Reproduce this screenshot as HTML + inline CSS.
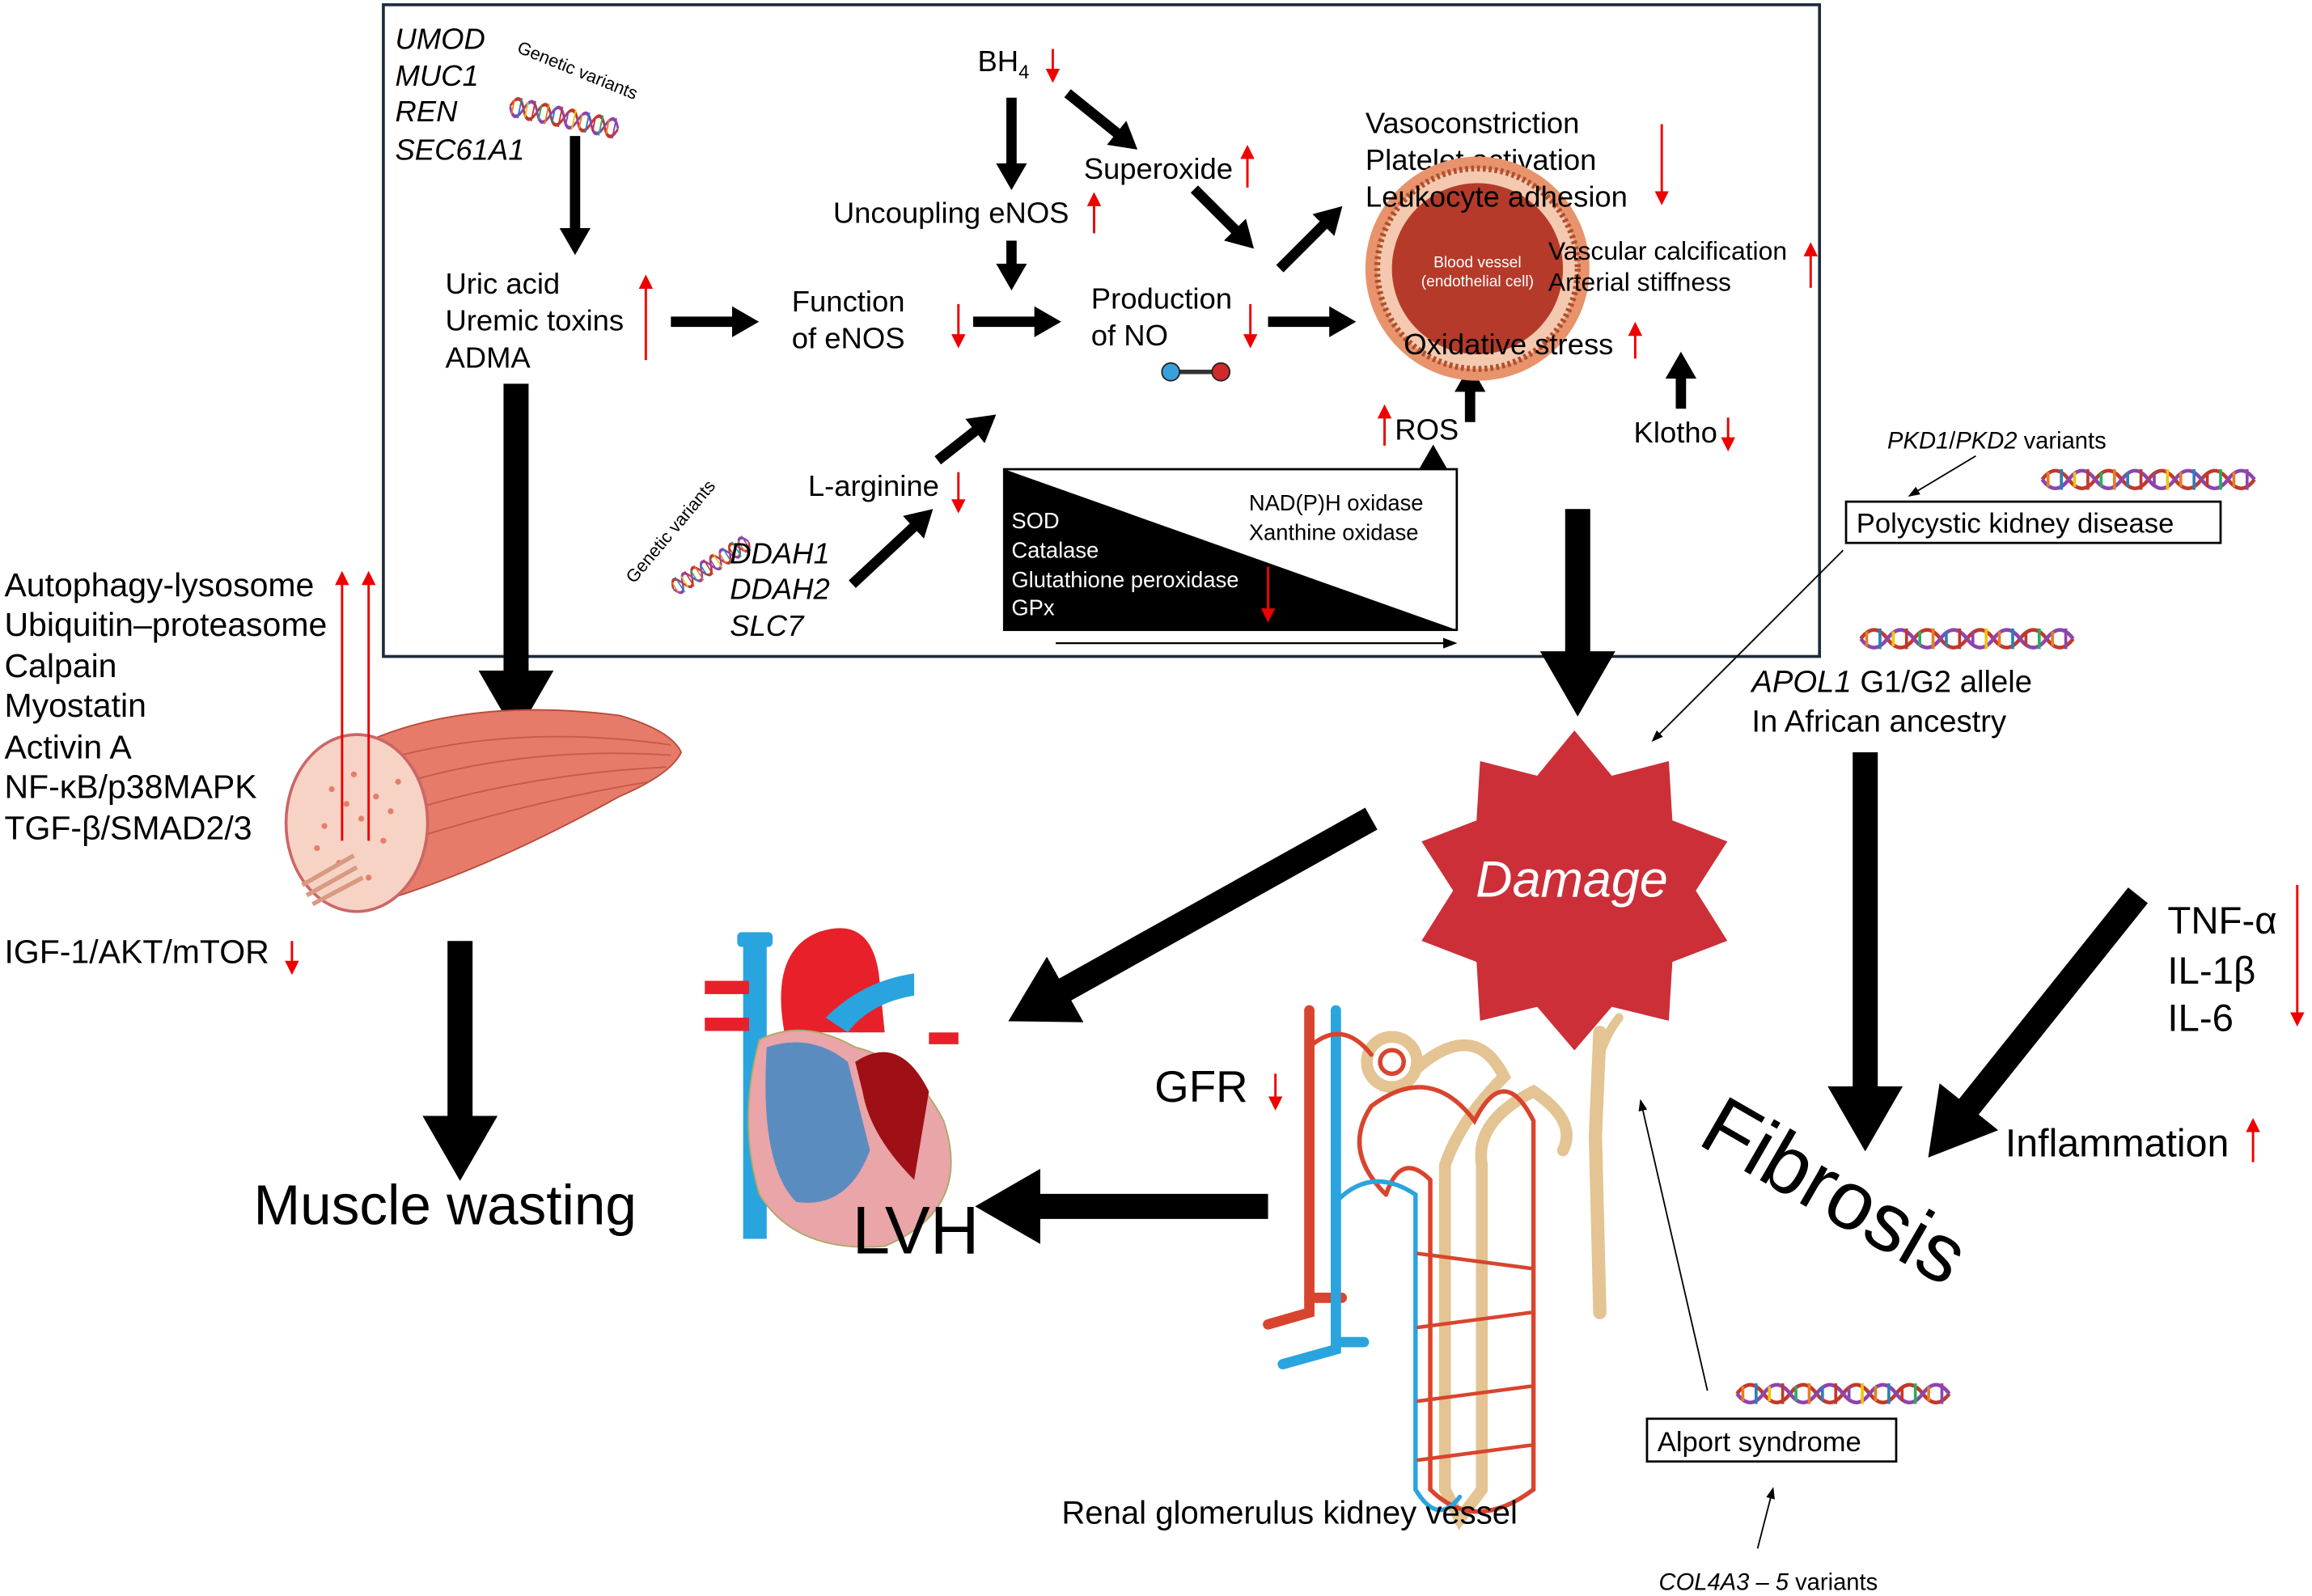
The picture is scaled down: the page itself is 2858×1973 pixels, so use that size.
<!DOCTYPE html>
<html><head><meta charset="utf-8"><style>
html,body{margin:0;padding:0;background:#fff;}
svg{display:block;}
text{font-family:"Liberation Sans",sans-serif;fill:#000;}
.i{font-style:italic;}
</style></head><body>
<svg width="2858" height="1973" viewBox="0 0 1568 1082" xmlns="http://www.w3.org/2000/svg">
<defs>
<marker id="bh" markerWidth="3" markerHeight="3" refX="0.5" refY="1.5" orient="auto" markerUnits="strokeWidth"><path d="M0,0 L2.6,1.5 L0,3 z" fill="#000"/></marker>
<marker id="rh" markerWidth="6" markerHeight="6" refX="1" refY="3" orient="auto" markerUnits="strokeWidth"><path d="M0,0 L6,3 L0,6 z" fill="#e00"/></marker>
<marker id="th" markerWidth="8" markerHeight="8" refX="1" refY="4" orient="auto" markerUnits="strokeWidth"><path d="M0,1 L8,4 L0,7 z" fill="#000"/></marker>
<g id="dna">
<path d="M0,10 Q9,-2 18,10 T36,10 T54,10 T72,10 T90,10 T108,10 T126,10 T144,10" stroke="#c0392b" stroke-width="2.5" fill="none"/>
<path d="M0,10 Q9,22 18,10 T36,10 T54,10 T72,10 T90,10 T108,10 T126,10 T144,10" stroke="#8e44ad" stroke-width="2.5" fill="none"/>
<g stroke-width="2">
<line x1="4" y1="5" x2="4" y2="15" stroke="#e67e22"/><line x1="13" y1="3" x2="13" y2="17" stroke="#2980b9"/>
<line x1="22" y1="5" x2="22" y2="15" stroke="#f1c40f"/><line x1="31" y1="3" x2="31" y2="17" stroke="#c0392b"/>
<line x1="40" y1="5" x2="40" y2="15" stroke="#27ae60"/><line x1="49" y1="3" x2="49" y2="17" stroke="#e67e22"/>
<line x1="58" y1="5" x2="58" y2="15" stroke="#2980b9"/><line x1="67" y1="3" x2="67" y2="17" stroke="#c0392b"/>
<line x1="76" y1="5" x2="76" y2="15" stroke="#8e44ad"/><line x1="85" y1="3" x2="85" y2="17" stroke="#f1c40f"/>
<line x1="94" y1="5" x2="94" y2="15" stroke="#e67e22"/><line x1="103" y1="3" x2="103" y2="17" stroke="#2980b9"/>
<line x1="112" y1="5" x2="112" y2="15" stroke="#c0392b"/><line x1="121" y1="3" x2="121" y2="17" stroke="#27ae60"/>
<line x1="130" y1="5" x2="130" y2="15" stroke="#e67e22"/><line x1="139" y1="3" x2="139" y2="17" stroke="#8e44ad"/>
</g></g>
</defs>

<rect x="260" y="3" width="974" height="442" fill="none" stroke="#1d2b3a" stroke-width="2"/>

<g font-size="20">
<text x="268" y="33" class="i">UMOD</text><text x="268" y="58" class="i">MUC1</text>
<text x="268" y="82" class="i">REN</text><text x="268" y="108" class="i">SEC61A1</text>
</g>
<text x="350" y="35" font-size="12" transform="rotate(22 350 35)">Genetic variants</text>
<use href="#dna" transform="translate(348,62) rotate(12) scale(0.52,1)"/>
<line x1="390" y1="92" x2="390" y2="158" stroke="#000" stroke-width="7" marker-end="url(#bh)"/>

<g font-size="20">
<text x="302" y="199">Uric acid</text><text x="302" y="224">Uremic toxins</text><text x="302" y="249">ADMA</text>
<text x="537" y="211">Function</text><text x="537" y="236">of eNOS</text>
<text x="740" y="209">Production</text><text x="740" y="234">of NO</text>
<text x="663" y="48">BH<tspan font-size="13" dy="5">4</tspan></text>
<text x="735" y="121">Superoxide</text>
<text x="565" y="151">Uncoupling eNOS</text>
<text x="926" y="90">Vasoconstriction</text><text x="926" y="115">Platelet activation</text>
<text x="946" y="298">ROS</text>
<text x="1108" y="300">Klotho</text>
<text x="548" y="336">L-arginine</text>
</g>

<g stroke="#e00" stroke-width="1.6">
<line x1="438" y1="244" x2="438" y2="194" marker-end="url(#rh)"/>
<line x1="650" y1="206" x2="650" y2="228" marker-end="url(#rh)"/>
<line x1="848" y1="206" x2="848" y2="228" marker-end="url(#rh)"/>
<line x1="714" y1="33" x2="714" y2="48" marker-end="url(#rh)"/>
<line x1="846" y1="127" x2="846" y2="106" marker-end="url(#rh)"/>
<line x1="742" y1="158" x2="742" y2="138" marker-end="url(#rh)"/>
<line x1="1127" y1="84" x2="1127" y2="131" marker-end="url(#rh)"/>
<line x1="1228" y1="195" x2="1228" y2="172" marker-end="url(#rh)"/>
<line x1="1109" y1="243" x2="1109" y2="226" marker-end="url(#rh)"/>
<line x1="939" y1="302" x2="939" y2="282" marker-end="url(#rh)"/>
<line x1="1172" y1="283" x2="1172" y2="298" marker-end="url(#rh)"/>
<line x1="650" y1="320" x2="650" y2="340" marker-end="url(#rh)"/>
<line x1="833" y1="364" x2="833" y2="341" marker-end="url(#rh)"/>
</g>

<g stroke="#000" stroke-width="7" fill="none">
<line x1="455" y1="218" x2="500" y2="218" marker-end="url(#bh)"/>
<line x1="660" y1="218" x2="705" y2="218" marker-end="url(#bh)"/>
<line x1="860" y1="218" x2="905" y2="218" marker-end="url(#bh)"/>
<line x1="686" y1="66" x2="686" y2="114" marker-end="url(#bh)"/>
<line x1="724" y1="63" x2="760" y2="92" marker-end="url(#bh)"/>
<line x1="686" y1="163" x2="686" y2="182" marker-end="url(#bh)"/>
<line x1="810" y1="128" x2="840" y2="158" marker-end="url(#bh)"/>
<line x1="868" y1="182" x2="900" y2="150" marker-end="url(#bh)"/>
<line x1="997" y1="286" x2="997" y2="262" marker-end="url(#bh)"/>
<line x1="1140" y1="277" x2="1140" y2="253" marker-end="url(#bh)"/>
<line x1="972" y1="330" x2="972" y2="316" marker-end="url(#bh)"/>
<line x1="636" y1="312" x2="664" y2="290" marker-end="url(#bh)"/>
<line x1="578" y1="396" x2="622" y2="355" marker-end="url(#bh)"/>
</g>

<line x1="797" y1="252" x2="826" y2="252" stroke="#333" stroke-width="3"/>
<circle cx="794" cy="252" r="6" fill="#3aa0dc" stroke="#222"/>
<circle cx="828" cy="252" r="6" fill="#d02a2a" stroke="#222"/>

<circle cx="1002" cy="182" r="76" fill="#e8936c"/>
<circle cx="1002" cy="182" r="68" fill="#f4c9b0" stroke="#b0502e" stroke-dasharray="2 2" stroke-width="4"/>
<circle cx="1002" cy="182" r="58" fill="#b53a2a"/>
<text x="1002" y="181" font-size="10.5" text-anchor="middle" style="fill:#fff">Blood vessel</text>
<text x="1002" y="194" font-size="10.5" text-anchor="middle" style="fill:#fff">(endothelial cell)</text>
<text x="926" y="140" font-size="20">Leukocyte adhesion</text>
<text x="952" y="240" font-size="20">Oxidative stress</text>
<text x="1050" y="176" font-size="17.5">Vascular calcification</text>
<text x="1050" y="197" font-size="17.5">Arterial stiffness</text>

<rect x="681" y="318" width="307" height="109" fill="#fff" stroke="#000" stroke-width="1.5"/>
<polygon points="681,318 988,427 681,427" fill="#000"/>
<g font-size="15">
<text x="686" y="358" style="fill:#fff">SOD</text><text x="686" y="378" style="fill:#fff">Catalase</text>
<text x="686" y="398" style="fill:#fff">Glutathione peroxidase</text><text x="686" y="417" style="fill:#fff">GPx</text>
<text x="847" y="346">NAD(P)H oxidase</text><text x="847" y="366">Xanthine oxidase</text>
</g>
<line x1="860" y1="384" x2="860" y2="414" stroke="#e00" stroke-width="1.6" marker-end="url(#rh)"/>
<line x1="716" y1="436" x2="980" y2="436" stroke="#000" stroke-width="1.2" marker-end="url(#th)"/>

<text x="430" y="396" font-size="12" transform="rotate(-50 430 396)">Genetic variants</text>
<use href="#dna" transform="translate(452,392) rotate(-32) scale(0.42,0.85)"/>
<g font-size="20"><text x="495" y="382" class="i">DDAH1</text><text x="495" y="406" class="i">DDAH2</text><text x="495" y="431" class="i">SLC7</text></g>

<g stroke="#000" stroke-width="17" fill="none">
<line x1="350" y1="260" x2="350" y2="463" marker-end="url(#bh)"/>
<line x1="1070" y1="345" x2="1070" y2="450" marker-end="url(#bh)"/>
<line x1="312" y1="638" x2="312" y2="765" marker-end="url(#bh)"/>
<line x1="1265" y1="510" x2="1265" y2="745" marker-end="url(#bh)"/>
<line x1="1450" y1="607" x2="1330" y2="757" marker-end="url(#bh)"/>
<line x1="930" y1="555" x2="715" y2="675" marker-end="url(#bh)"/>
<line x1="860" y1="818" x2="697" y2="818" marker-end="url(#bh)"/>
</g>

<g font-size="22.5">
<text x="3" y="404">Autophagy-lysosome</text><text x="3" y="431">Ubiquitin–proteasome</text>
<text x="3" y="459">Calpain</text><text x="3" y="486">Myostatin</text><text x="3" y="514">Activin A</text>
<text x="3" y="541">NF-κB/p38MAPK</text><text x="3" y="569">TGF-β/SMAD2/3</text>
<text x="3" y="653">IGF-1/AKT/mTOR</text>
</g>

<path d="M225,515 Q300,470 420,485 Q455,495 462,510 Q455,525 420,540 Q330,590 255,612 Z" fill="#e57b68" stroke="#b84a3a"/>
<g stroke="#c65a48" stroke-width="1" fill="none">
<path d="M260,515 Q350,490 455,505"/><path d="M260,535 Q350,505 455,512"/><path d="M260,555 Q350,525 452,520"/><path d="M260,575 Q350,545 440,530"/>
</g>
<ellipse cx="242" cy="558" rx="48" ry="60" fill="#f7d3c6" stroke="#c66" stroke-width="2"/>
<g fill="#e87c6a"><circle cx="225" cy="535" r="2"/><circle cx="240" cy="525" r="2"/><circle cx="255" cy="540" r="2"/><circle cx="220" cy="560" r="2"/><circle cx="245" cy="555" r="2"/><circle cx="260" cy="570" r="2"/><circle cx="230" cy="585" r="2"/><circle cx="250" cy="595" r="2"/><circle cx="215" cy="575" r="2"/><circle cx="265" cy="550" r="2"/><circle cx="270" cy="530" r="2"/><circle cx="235" cy="545" r="2"/></g>
<g stroke="#d89a80" stroke-width="3"><line x1="205" y1="600" x2="240" y2="580"/><line x1="208" y1="607" x2="242" y2="588"/><line x1="212" y1="613" x2="246" y2="595"/></g>
<g stroke="#e00" stroke-width="1.6">
<line x1="232" y1="570" x2="232" y2="395" marker-end="url(#rh)"/>
<line x1="250" y1="570" x2="250" y2="395" marker-end="url(#rh)"/>
<line x1="198" y1="638" x2="198" y2="653" marker-end="url(#rh)"/>
</g>
<text x="172" y="830" font-size="38">Muscle wasting</text>

<polygon fill="#cc2f38" points="1067.8,495.2 1093.1,525.9 1131.8,516 1134.2,556.2 1171.5,570.5 1150.1,603.8 1171.5,637.8 1134.2,652.2 1131.8,692.1 1093.1,682.6 1067.8,712.2 1042.5,682.6 1003.8,692.1 1001.4,652.2 964.1,637.8 985.5,603.8 964.1,570.5 1001.4,556.2 1003.8,516 1042.5,525.9"/>
<text x="1066" y="608" font-size="34.5" text-anchor="middle" class="i" style="fill:#fff">Damage</text>

<text x="1280" y="304" font-size="16"><tspan class="i">PKD1</tspan>/<tspan class="i">PKD2</tspan> variants</text>
<use href="#dna" transform="translate(1385,315)"/>
<rect x="1252" y="340" width="254" height="28" fill="#fff" stroke="#000" stroke-width="1.5"/>
<text x="1259" y="361" font-size="19">Polycystic kidney disease</text>
<line x1="1340" y1="309" x2="1300" y2="333" stroke="#000" stroke-width="1" marker-end="url(#th)"/>
<line x1="1250" y1="373" x2="1125" y2="498" stroke="#000" stroke-width="1" marker-end="url(#th)"/>

<use href="#dna" transform="translate(1262,423)"/>
<text x="1188" y="469" font-size="21"><tspan class="i">APOL1</tspan> G1/G2 allele</text>
<text x="1188" y="496" font-size="21">In African ancestry</text>

<g font-size="26"><text x="1470" y="633">TNF-α</text><text x="1470" y="667">IL-1β</text><text x="1470" y="699">IL-6</text></g>
<text x="1360" y="784" font-size="26.5">Inflammation</text>
<g stroke="#e00" stroke-width="1.6">
<line x1="1558" y1="600" x2="1558" y2="688" marker-end="url(#rh)"/>
<line x1="1528" y1="788" x2="1528" y2="766" marker-end="url(#rh)"/>
<line x1="865" y1="728" x2="865" y2="745" marker-end="url(#rh)"/>
</g>
<text x="1150" y="775" font-size="56" transform="rotate(30 1150 775)">Fibrosis</text>

<!-- heart -->
<rect x="504" y="640" width="16" height="200" fill="#2aa4de"/>
<rect x="500" y="632" width="24" height="10" rx="3" fill="#2aa4de"/>
<path d="M532,700 Q522,645 555,632 Q590,620 596,660 L600,700 Z" fill="#e8202a"/>
<path d="M560,690 Q585,665 620,660 L620,675 Q590,680 575,700 Z" fill="#2aa4de"/>
<path d="M515,705 Q545,690 580,710 Q620,720 640,760 Q660,820 600,845 Q540,850 515,810 Q500,760 515,705 Z" fill="#e9a5a8" stroke="#aa6"/>
<path d="M520,710 Q550,700 575,720 L590,780 Q575,820 540,815 Q515,790 520,710 Z" fill="#5b8cc0"/>
<path d="M580,720 Q610,700 630,740 L620,800 Q590,770 585,740 Z" fill="#9e1016"/>
<g fill="#e8202a"><rect x="478" y="665" width="30" height="9"/><rect x="478" y="690" width="30" height="9"/><rect x="630" y="700" width="20" height="8"/></g>
<text x="578" y="850" font-size="46">LVH</text>
<text x="783" y="747" font-size="30">GFR</text>

<!-- kidney -->
<g fill="none" stroke-linecap="round">
<path d="M888,685 L888,890 L860,898" stroke="#d9442e" stroke-width="7"/>
<path d="M888,880 L910,880" stroke="#d9442e" stroke-width="7"/>
<path d="M906,685 L906,915 L870,925" stroke="#2aa4de" stroke-width="7"/>
<path d="M906,910 L925,910" stroke="#2aa4de" stroke-width="7"/>
<path d="M1085,700 L1082,770 L1085,890" stroke="#e3c492" stroke-width="9"/>
<path d="M1085,715 Q1090,700 1098,690" stroke="#e3c492" stroke-width="6"/>
<circle cx="944" cy="720" r="17" stroke="#e3c492" stroke-width="8"/>
<circle cx="944" cy="720" r="8" stroke="#d9442e" stroke-width="3"/>
<path d="M960,725 Q1000,690 1020,730 Q990,760 980,790 L980,1010 L990,1030 L1005,1010 L1005,790 Q1000,760 1040,740 Q1070,760 1060,780" stroke="#e3c492" stroke-width="8"/>
<path d="M940,810 Q910,780 930,750 Q970,720 1000,760 Q1020,720 1040,760 L1040,1010 Q1000,1040 970,1010 L970,800 Q950,780 940,810" stroke="#d9442e" stroke-width="3"/>
<path d="M906,815 Q930,790 960,810 L960,1010 Q975,1035 990,1015" stroke="#2aa4de" stroke-width="3"/>
<path d="M888,710 Q910,690 930,715" stroke="#d9442e" stroke-width="3"/>
<g stroke="#d9442e" stroke-width="2.5"><line x1="962" y1="850" x2="1038" y2="860"/><line x1="962" y1="900" x2="1038" y2="890"/><line x1="962" y1="950" x2="1038" y2="940"/><line x1="962" y1="990" x2="1038" y2="980"/></g>
</g>
<text x="720" y="1033" font-size="22">Renal glomerulus kidney vessel</text>

<use href="#dna" transform="translate(1178,935)"/>
<rect x="1117" y="962" width="169" height="29" fill="#fff" stroke="#000" stroke-width="1.5"/>
<text x="1124" y="984" font-size="19">Alport syndrome</text>
<line x1="1158" y1="943" x2="1114" y2="752" stroke="#000" stroke-width="1" marker-end="url(#th)"/>
<line x1="1192" y1="1050" x2="1201" y2="1015" stroke="#000" stroke-width="1" marker-end="url(#th)"/>
<text x="1125" y="1078" font-size="16"><tspan class="i">COL4A3 – 5</tspan> variants</text>
</svg>
</body></html>
